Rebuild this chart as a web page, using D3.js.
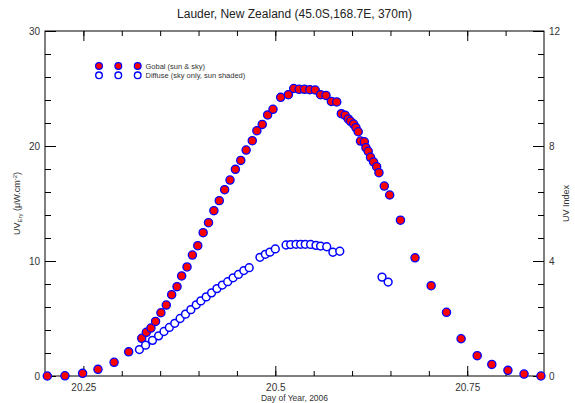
<!DOCTYPE html>
<html>
<head>
<meta charset="utf-8">
<script src="https://cdn.jsdelivr.net/npm/d3@7"></script>
<style>
  body { margin: 0; background: #fff; }
  svg { display: block; font-family: "Liberation Sans", Arial, sans-serif; }
  .axis text { fill: #333; font-size: 10px; }
  .axis path { display: none; }
  .axis line { stroke: #000; }
</style>
</head>
<body>
<div id="chart"></div>
<script>
// Global (sun & sky) measurements
var globalDay = [20.203, 20.226, 20.249, 20.269, 20.290, 20.309, 20.326, 20.332, 20.338, 20.344,
  20.351, 20.358, 20.365, 20.372, 20.378, 20.385, 20.392, 20.399, 20.406, 20.413,
  20.420, 20.427, 20.434, 20.441, 20.448, 20.455, 20.462, 20.470, 20.476, 20.483,
  20.490, 20.497, 20.507, 20.517, 20.524, 20.531, 20.538, 20.545, 20.552, 20.559,
  20.566, 20.573, 20.580, 20.586, 20.591, 20.595, 20.598, 20.602, 20.605, 20.608,
  20.611, 20.616, 20.618, 20.621, 20.624, 20.628, 20.632, 20.635, 20.642, 20.649,
  20.663, 20.682, 20.703, 20.723, 20.742, 20.763, 20.782, 20.803, 20.824, 20.846];
var globalUV = [0.0, 0.02, 0.23, 0.58, 1.19, 2.1, 3.28, 3.8, 4.17, 4.75,
  5.5, 6.17, 7.07, 7.77, 8.7, 9.48, 10.52, 11.33, 12.46, 13.33,
  14.38, 15.25, 16.2, 17.04, 17.97, 18.75, 19.65, 20.46, 21.33, 21.88,
  22.7, 23.19, 24.23, 24.46, 25.0, 24.93, 24.93, 24.9, 24.87, 24.46,
  24.4, 23.88, 23.83, 22.81, 22.67, 22.35, 22.15, 21.91, 21.6, 21.24,
  20.43, 20.37, 19.85, 19.54, 19.02, 18.61, 18.2, 17.68, 16.52, 15.74,
  13.55, 10.28, 7.85, 5.54, 3.24, 1.77, 1.01, 0.49, 0.17, 0.0];

// Diffuse (sky only, sun shaded) measurements
var diffuseDay = [20.323, 20.331, 20.340, 20.348, 20.355, 20.362, 20.369, 20.376, 20.383, 20.390,
  20.397, 20.403, 20.410, 20.417, 20.424, 20.431, 20.438, 20.445, 20.452, 20.459,
  20.466, 20.480, 20.487, 20.493, 20.500, 20.514, 20.520, 20.527, 20.533, 20.539,
  20.546, 20.553, 20.559, 20.567, 20.575, 20.584, 20.639, 20.647];
var diffuseUV = [2.3, 2.68, 3.1, 3.49, 3.87, 4.22, 4.58, 5.0, 5.38, 5.77,
  6.19, 6.53, 6.88, 7.23, 7.6, 7.91, 8.2, 8.54, 8.83, 9.17,
  9.42, 10.32, 10.58, 10.77, 11.05, 11.39, 11.43, 11.45, 11.45, 11.45,
  11.44, 11.36, 11.3, 11.24, 10.76, 10.85, 8.6, 8.17];

var xMajorTicks = [20.25, 20.5, 20.75];
var xMinorTicks = [20.25, 20.3, 20.35, 20.4, 20.45, 20.5, 20.55, 20.6, 20.65, 20.7, 20.75, 20.8];
var yMajorTicks = [0, 10, 20, 30];
var yMinorTicks = [2, 4, 6, 8, 12, 14, 16, 18, 22, 24, 26, 28];
var uviMajorTicks = [0, 4, 8, 12];
var uviMinorTicks = [0.8, 1.6, 2.4, 3.2, 4.8, 5.6, 6.4, 7.2, 8.8, 9.6, 10.4, 11.2];

var margin = { top: 31, left: 45, right: 31, bottom: 27 },
  width = 575 - margin.left - margin.right,
  height = 403 - margin.top - margin.bottom;

var svg = d3.select("#chart").append("svg")
  .attr("width", 575)
  .attr("height", 403);

var g = svg.append("g")
  .attr("transform", "translate(" + margin.left + "," + margin.top + ")");

var x = d3.scaleLinear().domain([20.2, 20.85]).range([0, width]);
var y = d3.scaleLinear().domain([0, 30]).range([height, 0]);
var yR = d3.scaleLinear().domain([0, 12]).range([height, 0]);

// frame
g.append("rect")
  .attr("width", width)
  .attr("height", height)
  .attr("fill", "none")
  .attr("stroke", "#000")
  .attr("stroke-width", 1);

// bottom axis
g.append("g").attr("class", "axis")
  .attr("transform", "translate(0," + height + ")")
  .call(d3.axisBottom(x).tickValues(xMinorTicks).tickSize(-5).tickFormat(""));
g.append("g").attr("class", "axis")
  .attr("transform", "translate(0," + height + ")")
  .call(d3.axisBottom(x).tickValues(xMajorTicks).tickSize(-10).tickPadding(8).tickFormat(d3.format("")));

// top axis
g.append("g").attr("class", "axis")
  .call(d3.axisTop(x).tickValues(xMinorTicks).tickSize(-5).tickFormat(""));
g.append("g").attr("class", "axis")
  .call(d3.axisTop(x).tickValues(xMajorTicks).tickSize(-10).tickFormat(""));

// left axis
g.append("g").attr("class", "axis")
  .call(d3.axisLeft(y).tickValues(yMinorTicks).tickSize(-6).tickFormat(""));
g.append("g").attr("class", "axis")
  .call(d3.axisLeft(y).tickValues(yMajorTicks).tickSize(-11).tickPadding(5));

// right axis
g.append("g").attr("class", "axis")
  .attr("transform", "translate(" + width + ",0)")
  .call(d3.axisRight(yR).tickValues(uviMinorTicks).tickSize(-6).tickFormat(""));
g.append("g").attr("class", "axis")
  .attr("transform", "translate(" + width + ",0)")
  .call(d3.axisRight(yR).tickValues(uviMajorTicks).tickSize(-11).tickPadding(5));

// points
g.selectAll(".glob")
  .data(globalDay.map((d, i) => [d, globalUV[i]]))
  .enter().append("circle")
  .attr("class", "glob")
  .attr("cx", d => x(d[0]))
  .attr("cy", d => y(d[1]))
  .attr("r", 4.1)
  .attr("fill", "#ff0000")
  .attr("stroke", "#0000ff")
  .attr("stroke-width", 1.3);

g.selectAll(".diff")
  .data(diffuseDay.map((d, i) => [d, diffuseUV[i]]))
  .enter().append("circle")
  .attr("class", "diff")
  .attr("cx", d => x(d[0]))
  .attr("cy", d => y(d[1]))
  .attr("r", 3.9)
  .attr("fill", "#fff")
  .attr("stroke", "#0000ff")
  .attr("stroke-width", 1.5);

// legend
var legend = svg.append("g").attr("transform", "translate(99,66)");
[0, 19.3, 38.7].forEach(dx => {
  legend.append("circle").attr("cx", dx).attr("cy", 0).attr("r", 3.4)
    .attr("fill", "#ff0000").attr("stroke", "#0000ff").attr("stroke-width", 1.2);
  legend.append("circle").attr("cx", dx).attr("cy", 9.3).attr("r", 3.3)
    .attr("fill", "#fff").attr("stroke", "#0000ff").attr("stroke-width", 1.4);
});
legend.append("text").attr("x", 46.5).attr("y", 2.6)
  .attr("font-size", "7.5px").attr("fill", "#333").text("Gobal (sun & sky)");
legend.append("text").attr("x", 46.5).attr("y", 11.9)
  .attr("font-size", "7.5px").attr("fill", "#333").text("Diffuse (sky only, sun shaded)");

// title
svg.append("text")
  .attr("x", margin.left + width / 2)
  .attr("y", 18)
  .attr("text-anchor", "middle")
  .attr("font-size", "12px")
  .attr("fill", "#222")
  .text("Lauder, New Zealand (45.0S,168.7E, 370m)");

// x label
svg.append("text")
  .attr("x", margin.left + width / 2)
  .attr("y", 401)
  .attr("text-anchor", "middle")
  .attr("font-size", "8.5px")
  .attr("fill", "#333")
  .text("Day of Year, 2006");

// left y label
var yl = svg.append("text")
  .attr("transform", "translate(20," + (margin.top + height / 2) + ") rotate(-90)")
  .attr("text-anchor", "middle")
  .attr("font-size", "9px")
  .attr("fill", "#333");
yl.append("tspan").text("UV");
yl.append("tspan").attr("font-size", "6px").attr("dy", 2).text("Ery");
yl.append("tspan").attr("dy", -2).text(" (\u03bcW.cm");
yl.append("tspan").attr("font-size", "6px").attr("dy", -3).text("-2");
yl.append("tspan").attr("dy", 3).text(")");

// right y label
svg.append("text")
  .attr("transform", "translate(569," + (margin.top + height / 2) + ") rotate(-90)")
  .attr("text-anchor", "middle")
  .attr("font-size", "9px")
  .attr("fill", "#333")
  .text("UV Index");
</script>
</body>
</html>
